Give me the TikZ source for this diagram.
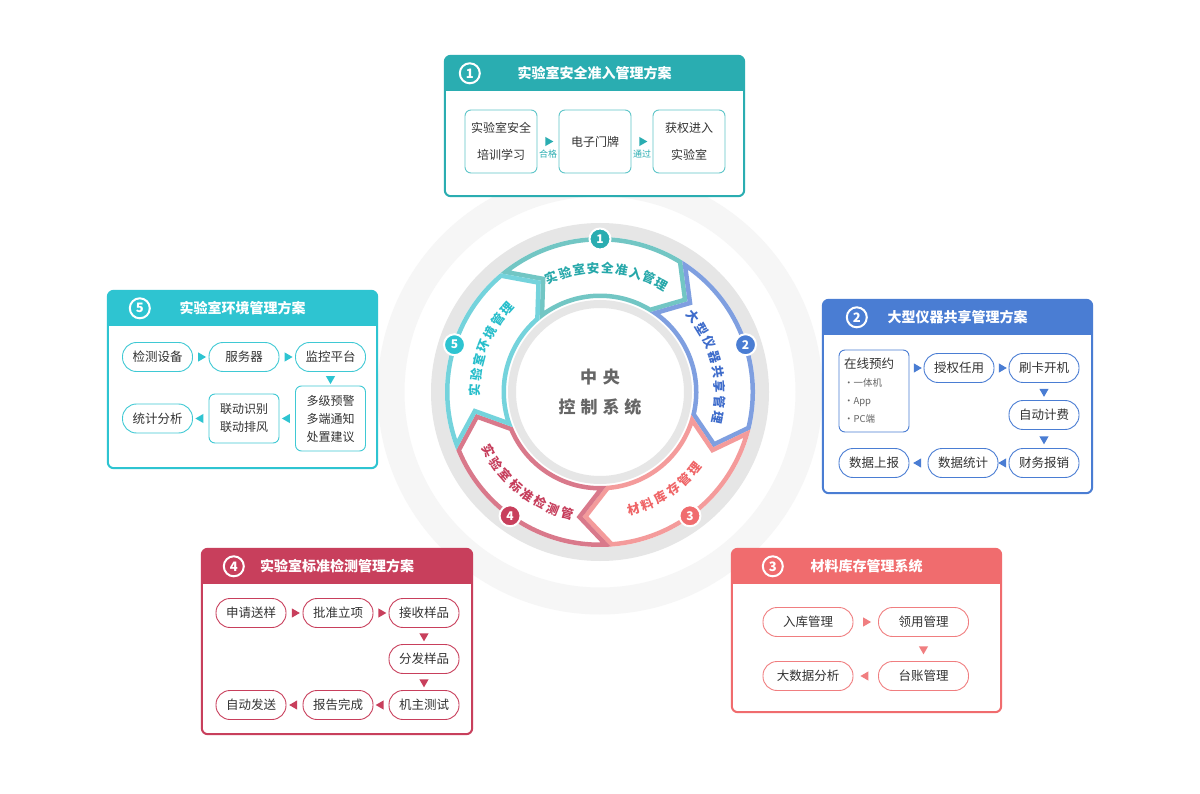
\documentclass[tikz,border=0pt]{standalone}
\usepackage{fontspec}
\setmainfont{Noto Sans CJK SC}
\usetikzlibrary{positioning, fit, shapes.geometric, calc}
\definecolor{Teal}{HTML}{2AADB1}
\definecolor{TealLine}{HTML}{5FC6C9}
\definecolor{Blue}{HTML}{4A7DD3}
\definecolor{Coral}{HTML}{F06C6E}
\definecolor{CoralLine}{HTML}{F07E80}
\definecolor{Crimson}{HTML}{C83F5C}
\definecolor{Cyan}{HTML}{2EC4D1}
\definecolor{CyanLine}{HTML}{3FC9D4}
\definecolor{Ink}{HTML}{333333}
\definecolor{Mid}{HTML}{666666}
\definecolor{RingGray}{HTML}{E6E6E6}
\definecolor{Faint}{HTML}{F6F6F6}
% ring outlines
\definecolor{SegA}{HTML}{72C6C4}
\definecolor{SegB}{HTML}{7F9FE0}
\definecolor{SegC}{HTML}{F49B9B}
\definecolor{SegD}{HTML}{D9798B}
\definecolor{SegE}{HTML}{74D3DC}
% ring labels
\definecolor{TxtA}{HTML}{27A8AA}
\definecolor{TxtB}{HTML}{3E6CCB}
\definecolor{TxtC}{HTML}{EF6567}
\definecolor{TxtD}{HTML}{C63D5B}
\definecolor{TxtE}{HTML}{27BECB}
\tikzset{
  panel/.style={fill=white, inner sep=0pt, rounded corners=6pt},
  headtxt/.style={text=white, font=\fontsize{14}{16}\selectfont\bfseries},
  headnum/.style={circle, draw=white, line width=2pt, minimum size=20pt,
    inner sep=0pt, text=white, font=\fontsize{13}{13}\selectfont\bfseries},
  card/.style={draw=#1, line width=0.9pt, rounded corners=6pt, fill=white,
    align=center, text=Ink, font=\fontsize{12}{18}\selectfont, inner sep=0pt},
  pill/.style={draw=#1, line width=0.9pt, rounded corners=14pt, fill=white,
    minimum width=70pt, minimum height=29pt, text=Ink,
    font=\fontsize{12.5}{14}\selectfont, inner sep=0pt},
  tri/.style={isosceles triangle, isosceles triangle apex angle=60, fill=#1,
    inner sep=0pt, minimum height=8pt, sloped, allow upside down},
  ringnum/.style={circle, fill=#1, draw=white, line width=2pt, minimum size=21pt,
    inner sep=0pt, text=white, font=\fontsize{12}{12}\selectfont\bfseries},
  segtxt/.style={text=#1, font=\fontsize{12.5}{13}\selectfont\bfseries, inner sep=0pt},
}
% panel with coloured header
\newcommand\panelbox[9]{%
  \node[panel, fit={(#3,-#4) (#5,-#6)}] (#1) {};
  \begin{scope}
    \clip[rounded corners=6pt] (#1.south west) rectangle (#1.north east);
    \fill[#2] (#1.north west) rectangle ([yshift=-35pt]#1.north east);
  \end{scope}
  \draw[#2, line width=2pt, rounded corners=6pt] (#1.south west) rectangle (#1.north east);
  \node[headnum] (#1-num) at ([xshift=#7pt, yshift=-17.5pt]#1.north west) {#8};
  \node[headtxt] (#1-title) at ([yshift=-17.5pt]#1.north) {#9};
}
% one chevron of the ring
\newcommand\ringseg[2]{%
  \pgfmathsetmacro\segend{#1-72}
  \begin{scope}
    \clip (#1:155) arc[start angle=#1, end angle=\segend, radius=155]
      -- ({\segend-12}:126) -- (\segend:94)
      arc[start angle=\segend, end angle=#1, radius=94] -- ({#1-12}:126) -- cycle;
    \draw[#2, line width=9pt] (#1:155) arc[start angle=#1, end angle=\segend, radius=155]
      -- ({\segend-12}:126) -- (\segend:94)
      arc[start angle=\segend, end angle=#1, radius=94] -- ({#1-12}:126) -- cycle;
  \end{scope}
}

\begin{document}
\begin{tikzpicture}[x=1pt, y=1pt]
\useasboundingbox (0,0) rectangle (1200,-794);
\fill[white] (0,0) rectangle (1200,-794);

% ring
\coordinate (O) at (600,-392);
\draw[Faint, line width=27pt] (O) circle[radius=209];
\fill[RingGray] (O) circle[radius=169];
\fill[white] (O) circle[radius=155];

\begin{scope}[shift={(O)}]
\ringseg{130}{SegA}
\ringseg{58}{SegB}
\ringseg{-14}{SegC}
\ringseg{-86}{SegD}
\ringseg{-158}{SegE}

\foreach \ch [count=\k from 0] in {实,验,室,安,全,准,入,管,理}
  \node[segtxt=TxtA, rotate={23-6.6*\k}] (sa-\k) at ({113-6.6*\k}:124) {\ch};
\foreach \ch [count=\k from 0] in {大,型,仪,器,共,享,管,理}
  \node[segtxt=TxtB, rotate={-51-7.3*\k}] (sb-\k) at ({39-7.3*\k}:120) {\ch};
\foreach \ch [count=\k from 0] in {材,料,库,存,管,理}
  \node[segtxt=TxtC, rotate={16+7*\k}] (sc-\k) at ({-74+7*\k}:122) {\ch};
\foreach \ch [count=\k from 0] in {实,验,室,标,准,检,测,管}
  \node[segtxt=TxtD, rotate={-62+6.7*\k}] (sd-\k) at ({-152+6.7*\k}:126) {\ch};
\foreach \ch [count=\k from 0] in {实,验,室,环,境,管,理}
  \node[segtxt=TxtE, rotate={89-6.83*\k}] (se-\k) at ({179-6.83*\k}:125) {\ch};

\node[ringnum=Teal] (m1) at (90:153) {1};
\node[ringnum=Blue] (m2) at (18:153) {2};
\node[ringnum=Coral] (m3) at (-54:153) {3};
\node[ringnum=Crimson] (m4) at (-126:153) {4};
\node[ringnum=Cyan] (m5) at (162:153) {5};
\end{scope}

\node[circle, draw=RingGray, line width=8pt, fill=white, minimum size=176pt,
  align=center, text=Mid, font=\fontsize{17}{30}\selectfont\bfseries] (hub) at (O)
  {中\hspace{6pt}央\\控\hspace{5pt}制\hspace{5pt}系\hspace{5pt}统};

% 1
\panelbox{p1}{Teal}{445}{56}{744}{196}{25}{1}{实验室安全准入管理方案}
\node[card=TealLine, minimum width=72pt, minimum height=63pt, font=\fontsize{12}{27}\selectfont] (train) at (501,-141.5) {实验室安全\\培训学习};
\node[card=TealLine, minimum width=72pt, minimum height=63pt] (plate) at (595,-141.5) {电子门牌};
\node[card=TealLine, minimum width=72pt, minimum height=63pt, font=\fontsize{12}{27}\selectfont] (enter) at (689,-141.5) {获权进入\\实验室};
\path (train) -- node[tri=Teal] (t1) {} node[below=5pt, text=Teal, font=\fontsize{9}{9}\selectfont] (pass) {合格} (plate);
\path (plate) -- node[tri=Teal] (t2) {} node[below=5pt, text=Teal, font=\fontsize{9}{9}\selectfont] (ok) {通过} (enter);

% 2
\panelbox{p2}{Blue}{823}{300}{1092}{493}{34}{2}{大型仪器共享管理方案}
\node[card=Blue, minimum width=70pt, minimum height=82pt, text width=60pt, align=left,
  font=\fontsize{12.5}{18}\selectfont] (book) at (874,-391)
  {在线预约\\{\color{Mid}\fontsize{9.5}{18}\selectfont ·一体机}\\{\color{Mid}\fontsize{9.5}{18}\selectfont ·App}\\{\color{Mid}\fontsize{9.5}{18}\selectfont ·PC端}};
\node[pill=Blue] (grant) at (959,-368) {授权任用};
\node[pill=Blue] (swipe) at (1044,-368) {刷卡开机};
\node[pill=Blue] (fee) at (1044,-415) {自动计费};
\node[pill=Blue] (refund) at (1044,-463) {财务报销};
\node[pill=Blue] (tally) at (963,-463) {数据统计};
\node[pill=Blue] (upload) at (874,-463) {数据上报};
\path (book.east |- grant) -- node[tri=Blue] {} (grant.west);
\path (grant) -- node[tri=Blue] {} (swipe);
\path (swipe) -- node[tri=Blue] {} (fee);
\path (fee) -- node[tri=Blue] {} (refund);
\path (refund) -- node[tri=Blue] {} (tally);
\path (tally) -- node[tri=Blue] {} (upload);

% 3
\panelbox{p3}{Coral}{732}{549}{1001}{712}{41}{3}{材料库存管理系统}
\node[pill=CoralLine, minimum width=90pt] (stockin) at (808,-622) {入库管理};
\node[pill=CoralLine, minimum width=90pt] (issue) at (923.5,-622) {领用管理};
\node[pill=CoralLine, minimum width=90pt] (ledger) at (923.5,-676) {台账管理};
\node[pill=CoralLine, minimum width=90pt] (bigdata) at (808,-676) {大数据分析};
\path (stockin) -- node[tri=CoralLine] {} (issue);
\path (issue) -- node[tri=CoralLine] {} (ledger);
\path (ledger) -- node[tri=CoralLine] {} (bigdata);

% 4
\panelbox{p4}{Crimson}{202}{549}{472}{734}{32}{4}{实验室标准检测管理方案}
\node[pill=Crimson] (apply) at (251,-613) {申请送样};
\node[pill=Crimson] (approve) at (338,-613) {批准立项};
\node[pill=Crimson] (receive) at (424,-613) {接收样品};
\node[pill=Crimson] (split) at (424,-659) {分发样品};
\node[pill=Crimson] (test) at (424,-705) {机主测试};
\node[pill=Crimson] (done) at (338,-705) {报告完成};
\node[pill=Crimson] (send) at (251,-705) {自动发送};
\path (apply) -- node[tri=Crimson] {} (approve);
\path (approve) -- node[tri=Crimson] {} (receive);
\path (receive) -- node[tri=Crimson] {} (split);
\path (split) -- node[tri=Crimson] {} (test);
\path (test) -- node[tri=Crimson] {} (done);
\path (done) -- node[tri=Crimson] {} (send);

% 5
\panelbox{p5}{Cyan}{108}{291}{377}{468}{32}{5}{实验室环境管理方案}
\node[pill=CyanLine] (sensor) at (157.5,-357) {检测设备};
\node[pill=CyanLine] (server) at (244,-357) {服务器};
\node[pill=CyanLine] (monitor) at (330.5,-357) {监控平台};
\node[card=CyanLine, minimum width=70pt, minimum height=65pt] (alarm) at (330.5,-418.5) {多级预警\\多端通知\\处置建议};
\node[card=CyanLine, minimum width=70pt, minimum height=49pt] (linkage) at (244,-418.5) {联动识别\\联动排风};
\node[pill=CyanLine] (stats) at (157.5,-418.5) {统计分析};
\path (sensor) -- node[tri=Cyan] {} (server);
\path (server) -- node[tri=Cyan] {} (monitor);
\path (monitor) -- node[tri=Cyan] {} (alarm);
\path (alarm) -- node[tri=Cyan] {} (linkage);
\path (linkage) -- node[tri=Cyan] {} (stats);

\end{tikzpicture}
\end{document}
